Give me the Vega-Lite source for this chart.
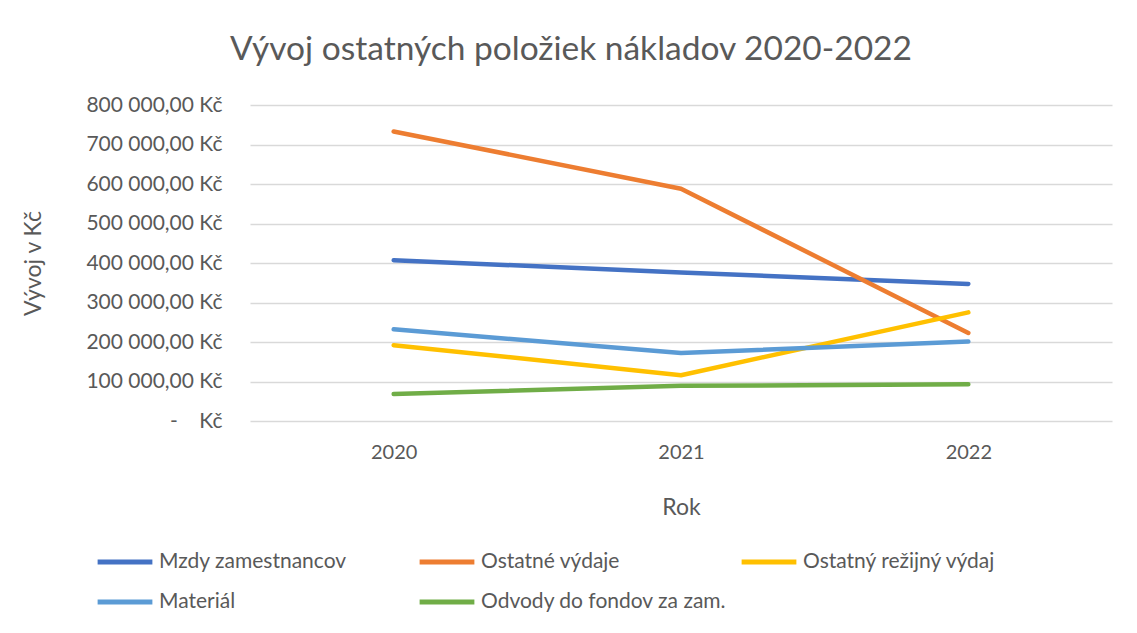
{
  "$schema": "https://vega.github.io/schema/vega-lite/v6.json",
  "autosize": {"type": "none"},
  "width": 862,
  "height": 316,
  "padding": {"left": 250, "top": 105, "right": 25, "bottom": 212},
  "background": "white",
  "title": {
    "text": "Vývoj ostatných položiek nákladov 2020-2022",
    "font": "Lato",
    "fontSize": 33.5,
    "fontWeight": "normal",
    "color": "#595959",
    "anchor": "middle",
    "dx": -110,
    "offset": 27
  },
  "data": {
    "values": [
      {"rok": "2020", "polozka": "Mzdy zamestnancov", "hodnota": 407000},
      {"rok": "2021", "polozka": "Mzdy zamestnancov", "hodnota": 376000},
      {"rok": "2022", "polozka": "Mzdy zamestnancov", "hodnota": 347000},
      {"rok": "2020", "polozka": "Ostatné výdaje", "hodnota": 733000},
      {"rok": "2021", "polozka": "Ostatné výdaje", "hodnota": 588000},
      {"rok": "2022", "polozka": "Ostatné výdaje", "hodnota": 223000},
      {"rok": "2020", "polozka": "Ostatný režijný výdaj", "hodnota": 192000},
      {"rok": "2021", "polozka": "Ostatný režijný výdaj", "hodnota": 116000},
      {"rok": "2022", "polozka": "Ostatný režijný výdaj", "hodnota": 275000},
      {"rok": "2020", "polozka": "Materiál", "hodnota": 232000},
      {"rok": "2021", "polozka": "Materiál", "hodnota": 172000},
      {"rok": "2022", "polozka": "Materiál", "hodnota": 201000},
      {"rok": "2020", "polozka": "Odvody do fondov za zam.", "hodnota": 68500},
      {"rok": "2021", "polozka": "Odvody do fondov za zam.", "hodnota": 89000},
      {"rok": "2022", "polozka": "Odvody do fondov za zam.", "hodnota": 93000}
    ]
  },
  "mark": {"type": "line", "strokeWidth": 4.5, "strokeCap": "round", "strokeJoin": "round"},
  "encoding": {
    "x": {
      "field": "rok",
      "type": "ordinal",
      "scale": {"type": "point", "padding": 0.5},
      "axis": {
        "title": "Rok",
        "labelAngle": 0,
        "labelFont": "Lato",
        "labelFontSize": 20,
        "labelColor": "#595959",
        "labelPadding": 21,
        "titleFont": "Lato",
        "titleFontSize": 23,
        "titleFontWeight": "normal",
        "titleColor": "#595959",
        "titlePadding": 34,
        "ticks": false,
        "domain": false,
        "grid": false
      }
    },
    "y": {
      "field": "hodnota",
      "type": "quantitative",
      "scale": {"domain": [0, 800000], "nice": false},
      "axis": {
        "title": "Vývoj v Kč",
        "values": [0, 100000, 200000, 300000, 400000, 500000, 600000, 700000, 800000],
        "labelExpr": "datum.value == 0 ? '-\u00a0\u00a0\u00a0\u00a0Kč' : replace(replace(format(datum.value, ',.2f'), ',', '\u00a0'), '.', ',') + '\u00a0Kč'",
        "labelFont": "Lato",
        "labelFontSize": 21,
        "labelColor": "#595959",
        "labelPadding": 28,
        "titleFont": "Lato",
        "titleFontSize": 23,
        "titleFontWeight": "normal",
        "titleColor": "#595959",
        "titlePadding": 40,
        "ticks": false,
        "domain": false,
        "grid": true,
        "gridColor": "#d9d9d9",
        "gridWidth": 1.5
      }
    },
    "color": {
      "field": "polozka",
      "type": "nominal",
      "sort": ["Mzdy zamestnancov", "Ostatné výdaje", "Ostatný režijný výdaj", "Materiál", "Odvody do fondov za zam."],
      "scale": {
        "domain": ["Mzdy zamestnancov", "Ostatné výdaje", "Ostatný režijný výdaj", "Materiál", "Odvody do fondov za zam."],
        "range": ["#4472C4", "#ED7D31", "#FFC000", "#5B9BD5", "#70AD47"]
      },
      "legend": {
        "title": null,
        "orient": "none",
        "legendX": -155,
        "legendY": 427,
        "direction": "horizontal",
        "columns": 3,
        "gridAlign": "all",
        "columnPadding": 4,
        "rowPadding": -10,
        "symbolType": "stroke",
        "symbolSize": 3000,
        "symbolStrokeWidth": 5,
        "labelFont": "Lato",
        "labelFontSize": 21,
        "labelColor": "#595959",
        "labelOffset": 4,
        "labelLimit": 400
      }
    }
  },
  "config": {"view": {"stroke": null}}
}
